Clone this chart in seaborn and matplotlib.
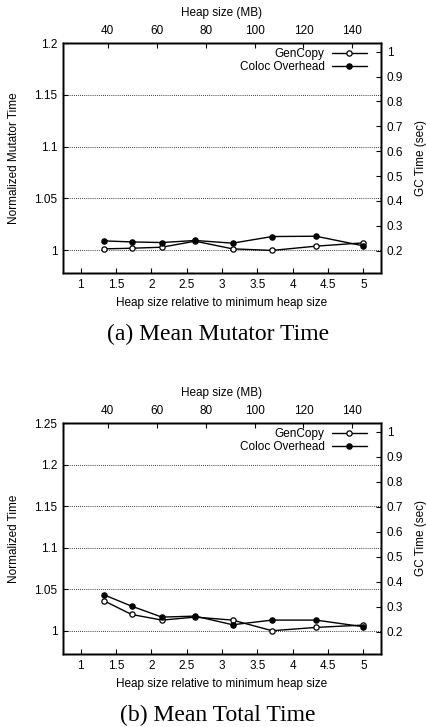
"""Mean mutator / total time of Coloc Overhead vs GenCopy across heap sizes (two stacked panels)."""

import matplotlib

matplotlib.use("Agg")
import matplotlib.pyplot as plt
import pandas as pd
import seaborn as sns
from matplotlib.ticker import FormatStrFormatter

# Heap size relative to the minimum heap size (bottom x axis)
heap_rel = [1.33, 1.72, 2.15, 2.62, 3.15, 3.71, 4.33, 5.0]
MIN_HEAP_MB = 28.9  # top axis: heap size in MB = heap_rel * MIN_HEAP_MB

mutator_gencopy = [1.0013, 1.0019, 1.0029, 1.0087, 1.0013, 0.9998, 1.0039, 1.0071]
mutator_coloc = [1.0090, 1.0080, 1.0074, 1.0094, 1.0068, 1.0132, 1.0135, 1.0042]
total_gencopy = [1.0360, 1.0196, 1.0128, 1.0164, 1.0128, 1.0000, 1.0040, 1.0068]
total_coloc = [1.0432, 1.0296, 1.0164, 1.0176, 1.0072, 1.0128, 1.0128, 1.0048]

bottom_ticks = [1, 1.5, 2, 2.5, 3, 3.5, 4, 4.5, 5]
top_ticks = [40, 60, 80, 100, 120, 140]
gc_ticks = [0.2, 0.3, 0.4, 0.5, 0.6, 0.7, 0.8, 0.9, 1.0]

W, H = 427, 727
FS = 8.5


def fx(px):
    return px / W


def fy(py):
    return 1 - py / H


def draw_panel(fig, top_px, bottom_px, gencopy, coloc, ylim, yticks, ylabel, caption):
    ax = fig.add_axes([fx(63), fy(bottom_px), fx(381) - fx(63), fy(top_px) - fy(bottom_px)])
    df = pd.DataFrame({"x": heap_rel, "GenCopy": gencopy, "Coloc Overhead": coloc})

    sns.lineplot(data=df, x="x", y="GenCopy", ax=ax, color="black", lw=1.0,
                 marker="o", markersize=3.8, markerfacecolor="white",
                 markeredgecolor="black", markeredgewidth=0.9, label="GenCopy", zorder=3)
    sns.lineplot(data=df, x="x", y="Coloc Overhead", ax=ax, color="black", lw=1.0,
                 marker="o", markersize=3.8, markerfacecolor="black",
                 markeredgecolor="black", markeredgewidth=0.9, label="Coloc Overhead", zorder=3)

    ax.set_xlim(0.75, 5.25)
    ax.set_ylim(*ylim)
    ax.set_xticks(bottom_ticks)
    ax.set_yticks(yticks)
    ax.xaxis.set_major_formatter(FormatStrFormatter("%g"))
    ax.yaxis.set_major_formatter(FormatStrFormatter("%g"))
    ax.set_xlabel("")
    ax.set_ylabel("")
    ax.yaxis.grid(True, linestyle=(0, (1, 1.5)), color="black", lw=0.6)
    ax.set_axisbelow(True)

    leg = ax.legend(loc="upper right", bbox_to_anchor=(0.956, 0.978), markerfirst=False,
                    frameon=False, fontsize=FS, handlelength=3.0, handletextpad=0.6,
                    labelspacing=0.05, borderaxespad=0.0, borderpad=0.0)
    for t in leg.get_texts():
        t.set_ha("right")

    # Right axis: GC time (sec)
    ax_gc = ax.twinx()
    ax_gc.set_ylim(0.11, 1.035)
    ax_gc.set_yticks(gc_ticks)
    ax_gc.yaxis.set_major_formatter(FormatStrFormatter("%g"))

    # Top axis: heap size in MB
    ax_mb = ax.twiny()
    ax_mb.set_xlim(0.75 * MIN_HEAP_MB, 5.25 * MIN_HEAP_MB)
    ax_mb.set_xticks(top_ticks)

    for a in (ax, ax_gc, ax_mb):
        a.tick_params(direction="in", length=3.6, width=0.8, labelsize=FS, pad=4,
                      colors="black")
        for s in a.spines.values():
            s.set_visible(True)
            s.set_linewidth(1.0)
            s.set_color("black")

    fig.text(fx(14), fy((top_px + bottom_px) / 2), ylabel, rotation=90,
             ha="center", va="center", fontsize=FS)
    fig.text(fx(421), fy((top_px + bottom_px) / 2), "GC Time (sec)", rotation=90,
             ha="center", va="center", fontsize=FS)
    fig.text(fx(222), fy(top_px - 30), "Heap size (MB)", ha="center", va="center", fontsize=FS)
    fig.text(fx(222), fy(bottom_px + 30), "Heap size relative to minimum heap size",
             ha="center", va="center", fontsize=FS)
    fig.text(fx(218), fy(bottom_px + 61), caption, ha="center", va="center",
             fontsize=17, family=["Liberation Serif", "DejaVu Serif"])


def main():
    sns.set_theme(style="ticks")
    plt.rcParams["font.family"] = ["Liberation Sans", "DejaVu Sans"]
    plt.rcParams["text.color"] = "black"
    plt.rcParams["axes.labelcolor"] = "black"

    fig = plt.figure(figsize=(W / 100, H / 100), dpi=100)
    draw_panel(fig, 43, 273, mutator_gencopy, mutator_coloc, (0.978, 1.2),
               [1, 1.05, 1.1, 1.15, 1.2], "Normalized Mutator Time", "(a) Mean Mutator Time")
    draw_panel(fig, 423, 654, total_gencopy, total_coloc, (0.972, 1.25),
               [1, 1.05, 1.1, 1.15, 1.2, 1.25], "Normalized Time", "(b) Mean Total Time")
    fig.savefig("out.png", dpi=100)


if __name__ == "__main__":
    main()
